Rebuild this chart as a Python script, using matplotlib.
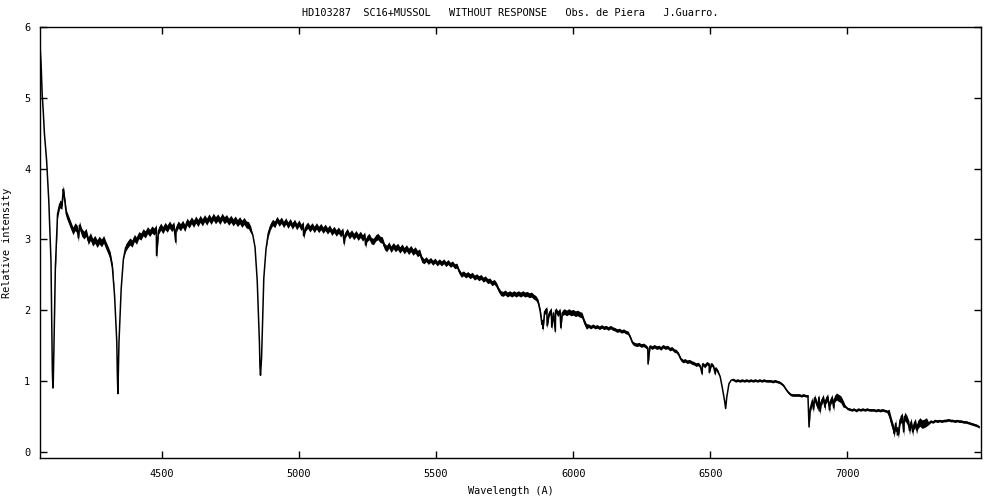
import numpy as np
import matplotlib
matplotlib.use("Agg")
import matplotlib.pyplot as plt

# Sampling grid of the spectrum (Angstrom), 8 A step
wl_start, wl_stop, wl_step = 4056, 7488, 8

# Relative intensity at each grid point
flux = [
    5.75, 5.05, 4.50, 4.12, 3.55, 2.70, 0.92, 2.60, 3.36, 3.50,
    3.48, 3.62, 3.36, 3.28, 3.20, 3.12, 3.18, 3.14, 3.20, 3.10,
    3.06, 3.10, 2.98, 3.04, 2.96, 3.00, 2.94, 2.99, 2.95, 3.00,
    2.92, 2.85, 2.77, 2.60, 2.20, 1.55, 1.55, 2.30, 2.72, 2.88,
    2.93, 2.97, 2.94, 3.02, 2.98, 3.06, 3.04, 3.10, 3.07, 3.13,
    3.09, 3.14, 3.11, 3.16, 3.12, 3.18, 3.13, 3.19, 3.15, 3.21,
    3.16, 3.20, 3.14, 3.21, 3.17, 3.22, 3.16, 3.25, 3.21, 3.27,
    3.22, 3.28, 3.23, 3.29, 3.24, 3.30, 3.25, 3.31, 3.26, 3.32,
    3.27, 3.31, 3.26, 3.32, 3.27, 3.30, 3.25, 3.29, 3.24, 3.28,
    3.23, 3.27, 3.22, 3.26, 3.21, 3.20, 3.14, 3.06, 2.89, 2.42,
    1.55, 1.34, 2.45, 2.86, 3.08, 3.18, 3.24, 3.21, 3.28, 3.23,
    3.27, 3.21, 3.26, 3.20, 3.25, 3.19, 3.24, 3.18, 3.23, 3.17,
    3.21, 3.16, 3.20, 3.15, 3.19, 3.14, 3.19, 3.14, 3.18, 3.13,
    3.17, 3.12, 3.16, 3.10, 3.14, 3.09, 3.13, 3.08, 3.12, 3.06,
    3.11, 3.05, 3.09, 3.04, 3.08, 3.03, 3.07, 3.02, 3.06, 3.01,
    3.04, 2.98, 2.97, 3.02, 3.04, 3.00, 2.99, 2.90, 2.87, 2.92,
    2.86, 2.91, 2.87, 2.90, 2.85, 2.89, 2.84, 2.88, 2.83, 2.87,
    2.82, 2.85, 2.80, 2.82, 2.72, 2.69, 2.72, 2.68, 2.71, 2.67,
    2.70, 2.66, 2.69, 2.66, 2.69, 2.65, 2.68, 2.64, 2.66, 2.62,
    2.63, 2.55, 2.50, 2.52, 2.49, 2.51, 2.48, 2.50, 2.46, 2.48,
    2.45, 2.47, 2.43, 2.45, 2.41, 2.42, 2.38, 2.40, 2.36, 2.29,
    2.24, 2.23, 2.25, 2.22, 2.24, 2.22, 2.24, 2.22, 2.24, 2.22,
    2.24, 2.22, 2.23, 2.21, 2.22, 2.19, 2.17, 2.12, 1.98, 1.85,
    1.98, 2.01, 1.95, 2.00, 1.96, 2.00, 1.95, 1.99, 1.96, 1.98,
    1.96, 1.98, 1.96, 1.97, 1.95, 1.96, 1.94, 1.93, 1.84, 1.77,
    1.78, 1.76, 1.78, 1.76, 1.77, 1.75, 1.77, 1.75, 1.76, 1.74,
    1.76, 1.74, 1.73, 1.71, 1.72, 1.70, 1.71, 1.69, 1.68, 1.62,
    1.54, 1.52, 1.51, 1.52, 1.50, 1.51, 1.49, 1.46, 1.49, 1.47,
    1.49, 1.47, 1.48, 1.46, 1.49, 1.47, 1.48, 1.45, 1.46, 1.43,
    1.42, 1.38, 1.31, 1.28, 1.29, 1.27, 1.28, 1.26, 1.25, 1.23,
    1.24, 1.20, 1.24, 1.21, 1.25, 1.23, 1.24, 1.20, 1.18, 1.13,
    1.06, 0.90, 0.72, 0.77, 0.96, 1.01, 1.02, 1.00, 1.01, 1.00,
    1.01, 1.00, 1.01, 1.00, 1.01, 1.00, 1.01, 1.00, 1.01, 1.00,
    1.01, 1.00, 1.00, 1.00, 0.99, 1.00, 0.99, 0.98, 0.96, 0.93,
    0.88, 0.84, 0.81, 0.80, 0.80, 0.80, 0.80, 0.79, 0.80, 0.79,
    0.79, 0.60, 0.72, 0.76, 0.68, 0.77, 0.70, 0.76, 0.72, 0.77,
    0.69, 0.76, 0.74, 0.78, 0.76, 0.74, 0.68, 0.64, 0.61, 0.60,
    0.59, 0.60, 0.58, 0.60, 0.59, 0.60, 0.59, 0.60, 0.59, 0.59,
    0.59, 0.58, 0.59, 0.58, 0.59, 0.58, 0.57, 0.54, 0.42, 0.32,
    0.40, 0.30, 0.45, 0.49, 0.50, 0.46, 0.38, 0.42, 0.36, 0.41,
    0.38, 0.42, 0.39, 0.40, 0.42, 0.40, 0.43, 0.42, 0.44, 0.43,
    0.44, 0.43, 0.44, 0.44, 0.45, 0.44, 0.44, 0.43, 0.44, 0.43,
    0.43, 0.42, 0.42, 0.41, 0.40, 0.39, 0.38, 0.37, 0.35,
]

# Sharp features (line cores and spikes)
feature_wl = [4060, 4068, 4101, 4103, 4106, 4141, 4196, 4338, 4340, 4342,
              4481, 4551, 4858, 4860, 5017, 5165, 5243, 5886, 5890, 5905,
              5922, 5935, 5955, 6273, 6470, 6496, 6518, 6556, 6860, 6876,
              6893, 6900, 6918, 6935, 6950, 7170, 7178, 7186, 7205, 7226,
              7238, 7252]
feature_flux = [5.47, 4.80, 1.15, 0.90, 1.30, 3.71, 3.02, 1.10, 0.82, 1.20,
                2.77, 2.96, 1.20, 1.08, 3.05, 2.94, 2.92, 1.80, 1.74, 1.78,
                1.76, 1.70, 1.75, 1.24, 1.10, 1.12, 1.10, 0.61, 0.35, 0.60,
                0.62, 0.57, 0.63, 0.59, 0.62, 0.26, 0.29, 0.25, 0.28, 0.30,
                0.28, 0.31]

# Apparent half-thickness of the noisy trace, per wavelength segment
band_edges = [4056, 4112, 4326, 4362, 4832, 4886, 5450, 5880, 6050, 6530,
              6580, 6862, 6990, 7150, 7290, 7490]
band_half = [0.0, 0.055, 0.0, 0.05, 0.0, 0.045, 0.035, 0.04, 0.025, 0.0,
             0.018, 0.05, 0.018, 0.06, 0.018]

x_ticks = [4500, 5000, 5500, 6000, 6500, 7000]
y_ticks = [0, 1, 2, 3, 4, 5, 6]

title = "HD103287  SC16+MUSSOL   WITHOUT RESPONSE   Obs. de Piera   J.Guarro."

wl_grid = np.arange(wl_start, wl_stop, wl_step)
wl_all = np.concatenate([wl_grid, np.array(feature_wl, dtype=float)])
fl_all = np.concatenate([np.array(flux), np.array(feature_flux)])
order = np.argsort(wl_all, kind="stable")
wl_all = wl_all[order]
fl_all = fl_all[order]

seg = np.clip(np.searchsorted(band_edges, wl_all, side="right") - 1, 0, len(band_half) - 1)
hw = np.array(band_half)[seg]

plt.rcParams['font.family'] = ['DejaVu Sans Mono']
fs = 7.4
fig = plt.figure(figsize=(10, 5), dpi=100)
ax = fig.add_axes([0.040, 0.0834, 0.941, 0.8626])
ax.fill_between(wl_all, fl_all - hw, fl_all + hw, color='black', lw=0)
ax.plot(wl_all, fl_all, color='black', lw=1.1)
ax.set_xlim(4056, 7487)
ax.set_ylim(-0.093, 6.0)
ax.set_xticks(x_ticks)
ax.set_yticks(y_ticks)
ax.tick_params(direction='in', length=5, width=1, top=True, right=True,
               labelsize=fs, pad=7)
ax.tick_params(axis='x', pad=8)
for s in ax.spines.values():
    s.set_linewidth(1.0)
ax.set_xlabel("Wavelength (A)", fontsize=fs, labelpad=5)
ax.set_ylabel("Relative intensity", fontsize=fs, labelpad=9)
ax.set_title(title, fontsize=fs, pad=8)
fig.savefig("out.png", dpi=100)
